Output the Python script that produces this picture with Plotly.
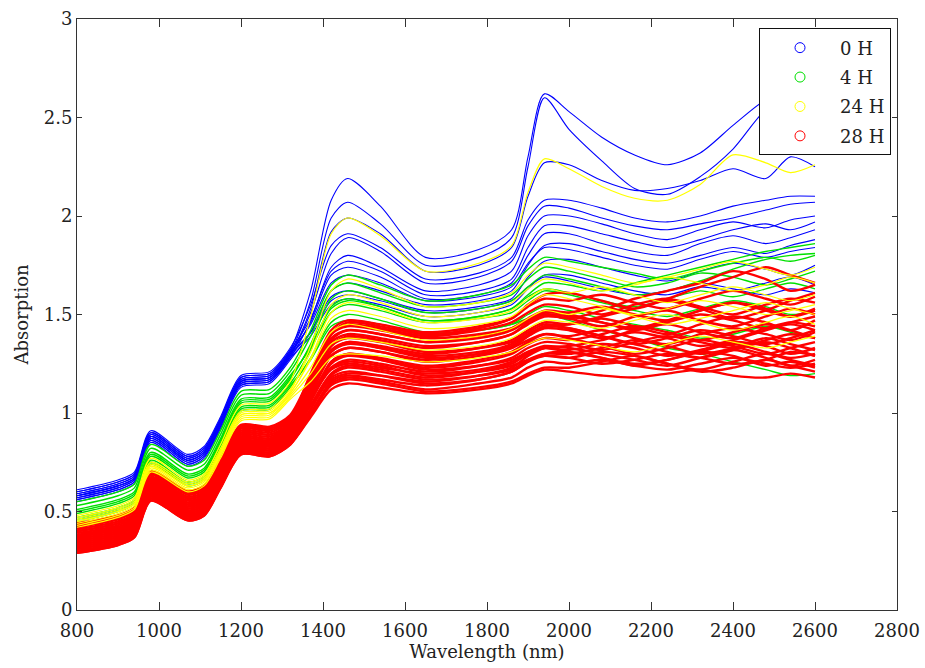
import plotly.graph_objects as go

wavelength = [800, 900, 940, 980, 1070, 1110, 1150, 1200, 1270, 1320, 1370, 1420, 1460, 1540,
              1650, 1780, 1860, 1900, 1940, 2000, 2080, 2160, 2240, 2320, 2400, 2480, 2540, 2600]

# ---- 0 H (blue) ----
b01 = [0.60, 0.65, 0.69, 0.90, 0.78, 0.82, 0.97, 1.18, 1.20, 1.32, 1.62, 2.08, 2.19, 2.05, 1.79, 1.83, 1.93, 2.30, 2.62, 2.53, 2.40, 2.31, 2.26, 2.32, 2.46, 2.59, 2.63, 2.66]
b02 = [0.59, 0.64, 0.68, 0.89, 0.77, 0.81, 0.96, 1.17, 1.19, 1.31, 1.57, 1.99, 2.07, 1.96, 1.75, 1.79, 1.89, 2.25, 2.60, 2.44, 2.28, 2.14, 2.11, 2.20, 2.34, 2.54, 2.60, 2.64]
b03 = [0.58, 0.63, 0.67, 0.88, 0.76, 0.80, 0.95, 1.16, 1.18, 1.30, 1.53, 1.92, 1.99, 1.91, 1.72, 1.75, 1.84, 2.10, 2.27, 2.26, 2.18, 2.13, 2.14, 2.18, 2.24, 2.19, 2.30, 2.25]
b04 = [0.61, 0.66, 0.70, 0.91, 0.79, 0.83, 0.98, 1.19, 1.21, 1.33, 1.55, 1.85, 1.91, 1.84, 1.68, 1.71, 1.79, 1.98, 2.08, 2.08, 2.04, 1.99, 1.97, 2.00, 2.05, 2.08, 2.10, 2.10]
b05 = [0.57, 0.62, 0.66, 0.87, 0.75, 0.79, 0.94, 1.15, 1.17, 1.29, 1.51, 1.81, 1.89, 1.82, 1.66, 1.69, 1.77, 1.95, 2.05, 2.04, 1.99, 1.95, 1.93, 1.96, 1.99, 2.03, 2.06, 2.07]
b06 = [0.56, 0.61, 0.65, 0.86, 0.74, 0.78, 0.93, 1.14, 1.16, 1.28, 1.47, 1.74, 1.80, 1.74, 1.62, 1.65, 1.72, 1.90, 2.00, 2.00, 1.96, 1.91, 1.88, 1.93, 1.97, 1.94, 1.98, 2.00]
b07 = [0.60, 0.65, 0.69, 0.90, 0.78, 0.82, 0.97, 1.18, 1.20, 1.32, 1.48, 1.72, 1.77, 1.72, 1.60, 1.62, 1.68, 1.84, 1.95, 1.95, 1.91, 1.87, 1.84, 1.88, 1.93, 1.96, 1.93, 1.97]
b08 = [0.58, 0.63, 0.67, 0.88, 0.76, 0.80, 0.95, 1.16, 1.18, 1.30, 1.46, 1.70, 1.74, 1.69, 1.58, 1.60, 1.66, 1.80, 1.91, 1.91, 1.86, 1.82, 1.80, 1.86, 1.90, 1.86, 1.89, 1.93]
b09 = [0.55, 0.60, 0.64, 0.85, 0.73, 0.77, 0.92, 1.13, 1.15, 1.27, 1.41, 1.62, 1.66, 1.62, 1.55, 1.57, 1.62, 1.75, 1.85, 1.86, 1.82, 1.78, 1.76, 1.80, 1.84, 1.81, 1.85, 1.88]
b10 = [0.57, 0.62, 0.66, 0.87, 0.75, 0.79, 0.94, 1.15, 1.17, 1.29, 1.41, 1.59, 1.62, 1.58, 1.52, 1.54, 1.58, 1.69, 1.77, 1.78, 1.74, 1.70, 1.67, 1.72, 1.76, 1.73, 1.70, 1.75]
b11 = [0.56, 0.61, 0.65, 0.86, 0.74, 0.78, 0.93, 1.14, 1.16, 1.28, 1.39, 1.55, 1.58, 1.55, 1.49, 1.51, 1.55, 1.63, 1.70, 1.70, 1.66, 1.62, 1.60, 1.64, 1.62, 1.66, 1.69, 1.65]
b12 = [0.59, 0.64, 0.68, 0.89, 0.77, 0.81, 0.96, 1.17, 1.19, 1.31, 1.45, 1.66, 1.70, 1.66, 1.57, 1.59, 1.64, 1.76, 1.84, 1.83, 1.79, 1.75, 1.73, 1.78, 1.82, 1.79, 1.82, 1.84]
b13 = [0.58, 0.63, 0.67, 0.88, 0.76, 0.80, 0.95, 1.16, 1.18, 1.30, 1.41, 1.57, 1.60, 1.57, 1.51, 1.53, 1.57, 1.64, 1.69, 1.67, 1.63, 1.60, 1.62, 1.66, 1.63, 1.60, 1.63, 1.61]

# ---- 4 H (green) ----
g01 = [0.45, 0.50, 0.54, 0.74, 0.63, 0.66, 0.81, 1.01, 1.02, 1.13, 1.28, 1.46, 1.50, 1.47, 1.41, 1.42, 1.45, 1.48, 1.50, 1.47, 1.42, 1.38, 1.33, 1.30, 1.26, 1.22, 1.19, 1.20]
g02 = [0.47, 0.52, 0.56, 0.76, 0.65, 0.68, 0.83, 1.03, 1.04, 1.15, 1.32, 1.54, 1.58, 1.54, 1.47, 1.49, 1.53, 1.60, 1.66, 1.65, 1.62, 1.66, 1.70, 1.74, 1.78, 1.82, 1.84, 1.86]
g03 = [0.49, 0.54, 0.58, 0.78, 0.67, 0.70, 0.85, 1.05, 1.06, 1.17, 1.35, 1.58, 1.62, 1.58, 1.51, 1.53, 1.57, 1.64, 1.70, 1.68, 1.64, 1.60, 1.62, 1.67, 1.73, 1.78, 1.80, 1.81]
g04 = [0.51, 0.56, 0.60, 0.80, 0.69, 0.72, 0.87, 1.07, 1.08, 1.19, 1.33, 1.51, 1.55, 1.52, 1.46, 1.48, 1.51, 1.57, 1.62, 1.60, 1.56, 1.52, 1.49, 1.53, 1.57, 1.54, 1.50, 1.52]
g05 = [0.53, 0.58, 0.62, 0.82, 0.71, 0.74, 0.89, 1.09, 1.10, 1.21, 1.39, 1.62, 1.66, 1.61, 1.54, 1.56, 1.60, 1.68, 1.74, 1.72, 1.68, 1.64, 1.66, 1.71, 1.69, 1.65, 1.68, 1.72]
g06 = [0.46, 0.51, 0.55, 0.75, 0.64, 0.67, 0.82, 1.02, 1.03, 1.14, 1.27, 1.44, 1.47, 1.45, 1.40, 1.42, 1.45, 1.50, 1.54, 1.52, 1.48, 1.45, 1.42, 1.38, 1.40, 1.44, 1.41, 1.38]
g07 = [0.55, 0.60, 0.64, 0.84, 0.73, 0.76, 0.91, 1.11, 1.12, 1.23, 1.42, 1.65, 1.70, 1.65, 1.57, 1.60, 1.65, 1.73, 1.79, 1.77, 1.74, 1.71, 1.68, 1.72, 1.76, 1.79, 1.77, 1.80]
g08 = [0.50, 0.55, 0.59, 0.79, 0.68, 0.71, 0.86, 1.06, 1.07, 1.18, 1.34, 1.53, 1.57, 1.54, 1.47, 1.49, 1.53, 1.59, 1.63, 1.61, 1.57, 1.54, 1.58, 1.62, 1.59, 1.63, 1.66, 1.63]

# ---- 24 H (yellow) ----
y01 = [0.48, 0.53, 0.57, 0.77, 0.66, 0.69, 0.84, 1.04, 1.05, 1.16, 1.49, 1.91, 1.99, 1.90, 1.72, 1.76, 1.85, 2.12, 2.29, 2.24, 2.15, 2.09, 2.08, 2.16, 2.31, 2.27, 2.22, 2.26]
y02 = [0.43, 0.48, 0.52, 0.71, 0.61, 0.64, 0.78, 0.97, 0.98, 1.08, 1.20, 1.35, 1.38, 1.36, 1.32, 1.34, 1.38, 1.43, 1.47, 1.46, 1.43, 1.47, 1.50, 1.46, 1.42, 1.46, 1.49, 1.45]
y03 = [0.45, 0.50, 0.54, 0.73, 0.63, 0.66, 0.80, 0.99, 1.00, 1.10, 1.27, 1.48, 1.52, 1.49, 1.43, 1.45, 1.49, 1.55, 1.60, 1.58, 1.54, 1.50, 1.53, 1.57, 1.54, 1.50, 1.52, 1.55]
y04 = [0.42, 0.47, 0.51, 0.70, 0.60, 0.63, 0.77, 0.96, 0.97, 1.07, 1.16, 1.28, 1.30, 1.29, 1.26, 1.28, 1.31, 1.35, 1.38, 1.37, 1.34, 1.31, 1.35, 1.39, 1.36, 1.33, 1.36, 1.39]
y05 = [0.47, 0.52, 0.56, 0.75, 0.65, 0.68, 0.82, 1.01, 1.02, 1.12, 1.31, 1.55, 1.60, 1.56, 1.49, 1.51, 1.56, 1.63, 1.68, 1.66, 1.62, 1.65, 1.69, 1.66, 1.62, 1.65, 1.69, 1.66]
y06 = [0.44, 0.49, 0.53, 0.72, 0.62, 0.65, 0.79, 0.98, 0.99, 1.09, 1.23, 1.41, 1.45, 1.42, 1.37, 1.39, 1.43, 1.48, 1.52, 1.50, 1.53, 1.49, 1.45, 1.48, 1.52, 1.56, 1.53, 1.50]
y07 = [0.46, 0.51, 0.55, 0.74, 0.64, 0.67, 0.81, 1.00, 1.01, 1.11, 1.34, 1.62, 1.68, 1.63, 1.54, 1.56, 1.61, 1.70, 1.76, 1.74, 1.70, 1.66, 1.69, 1.73, 1.77, 1.73, 1.70, 1.74]
y08 = [0.45, 0.50, 0.54, 0.73, 0.63, 0.66, 0.80, 0.99, 1.00, 1.10, 1.28, 1.51, 1.56, 1.53, 1.46, 1.48, 1.52, 1.58, 1.63, 1.61, 1.64, 1.60, 1.56, 1.60, 1.64, 1.60, 1.57, 1.60]

# ---- 28 H (red) ----
r01 = [0.29, 0.33, 0.37, 0.555, 0.455, 0.48, 0.62, 0.79, 0.78, 0.84, 0.98, 1.12, 1.15, 1.13, 1.10, 1.12, 1.15, 1.19, 1.22, 1.21, 1.19, 1.18, 1.20, 1.22, 1.19, 1.18, 1.20, 1.18]
r02 = [0.30, 0.34, 0.38, 0.565, 0.465, 0.49, 0.63, 0.80, 0.79, 0.85, 1.00, 1.15, 1.18, 1.16, 1.12, 1.15, 1.18, 1.23, 1.26, 1.25, 1.27, 1.24, 1.22, 1.25, 1.28, 1.25, 1.23, 1.25]
r03 = [0.31, 0.35, 0.39, 0.575, 0.475, 0.50, 0.64, 0.81, 0.80, 0.86, 1.02, 1.18, 1.21, 1.19, 1.15, 1.17, 1.21, 1.26, 1.29, 1.28, 1.25, 1.27, 1.30, 1.28, 1.25, 1.27, 1.31, 1.29]
r04 = [0.32, 0.36, 0.40, 0.585, 0.485, 0.51, 0.65, 0.82, 0.81, 0.87, 1.04, 1.20, 1.24, 1.22, 1.18, 1.21, 1.25, 1.30, 1.33, 1.32, 1.35, 1.33, 1.29, 1.32, 1.36, 1.34, 1.30, 1.33]
r05 = [0.33, 0.37, 0.41, 0.595, 0.495, 0.52, 0.66, 0.83, 0.82, 0.88, 1.06, 1.23, 1.27, 1.25, 1.21, 1.24, 1.28, 1.33, 1.36, 1.35, 1.32, 1.36, 1.39, 1.36, 1.33, 1.37, 1.40, 1.38]
r06 = [0.34, 0.38, 0.42, 0.605, 0.505, 0.53, 0.67, 0.84, 0.83, 0.89, 1.07, 1.26, 1.30, 1.28, 1.24, 1.27, 1.31, 1.36, 1.40, 1.39, 1.42, 1.38, 1.35, 1.40, 1.43, 1.40, 1.37, 1.41]
r07 = [0.35, 0.39, 0.43, 0.615, 0.515, 0.54, 0.68, 0.85, 0.84, 0.90, 1.09, 1.29, 1.33, 1.31, 1.27, 1.30, 1.34, 1.39, 1.43, 1.42, 1.38, 1.42, 1.45, 1.41, 1.38, 1.43, 1.46, 1.44]
r08 = [0.36, 0.40, 0.44, 0.625, 0.525, 0.55, 0.69, 0.86, 0.85, 0.91, 1.11, 1.32, 1.36, 1.34, 1.30, 1.33, 1.37, 1.42, 1.46, 1.45, 1.48, 1.44, 1.40, 1.45, 1.49, 1.46, 1.42, 1.47]
r09 = [0.37, 0.41, 0.45, 0.635, 0.535, 0.56, 0.70, 0.87, 0.86, 0.92, 1.13, 1.34, 1.39, 1.37, 1.33, 1.36, 1.40, 1.45, 1.49, 1.48, 1.44, 1.49, 1.52, 1.47, 1.44, 1.49, 1.53, 1.50]
r10 = [0.38, 0.42, 0.46, 0.645, 0.545, 0.57, 0.71, 0.88, 0.87, 0.93, 1.15, 1.37, 1.42, 1.40, 1.36, 1.39, 1.43, 1.48, 1.52, 1.51, 1.54, 1.50, 1.47, 1.52, 1.56, 1.52, 1.49, 1.53]
r11 = [0.40, 0.44, 0.48, 0.665, 0.565, 0.59, 0.73, 0.90, 0.89, 0.95, 1.17, 1.40, 1.45, 1.43, 1.39, 1.42, 1.46, 1.51, 1.55, 1.54, 1.50, 1.55, 1.58, 1.54, 1.50, 1.55, 1.58, 1.56]
r12 = [0.42, 0.46, 0.50, 0.685, 0.585, 0.61, 0.75, 0.92, 0.91, 0.97, 1.20, 1.42, 1.47, 1.45, 1.41, 1.44, 1.48, 1.54, 1.58, 1.57, 1.60, 1.56, 1.53, 1.58, 1.62, 1.58, 1.55, 1.59]
r13 = [0.44, 0.48, 0.52, 0.705, 0.605, 0.63, 0.77, 0.94, 0.93, 0.99, 1.19, 1.40, 1.44, 1.42, 1.38, 1.40, 1.43, 1.47, 1.50, 1.48, 1.52, 1.58, 1.62, 1.66, 1.72, 1.68, 1.62, 1.65]
r14 = [0.31, 0.35, 0.39, 0.575, 0.475, 0.50, 0.64, 0.81, 0.80, 0.86, 1.06, 1.26, 1.30, 1.27, 1.22, 1.24, 1.27, 1.31, 1.33, 1.31, 1.28, 1.25, 1.27, 1.31, 1.29, 1.24, 1.26, 1.23]
r15 = [0.35, 0.39, 0.43, 0.615, 0.515, 0.54, 0.68, 0.85, 0.84, 0.90, 1.04, 1.17, 1.20, 1.19, 1.16, 1.19, 1.23, 1.29, 1.33, 1.34, 1.37, 1.41, 1.38, 1.34, 1.37, 1.42, 1.45, 1.42]
r16 = [0.38, 0.42, 0.46, 0.645, 0.545, 0.57, 0.71, 0.88, 0.87, 0.93, 1.08, 1.23, 1.26, 1.24, 1.19, 1.21, 1.24, 1.27, 1.29, 1.28, 1.31, 1.29, 1.25, 1.22, 1.26, 1.30, 1.27, 1.24]
r17 = [0.33, 0.37, 0.41, 0.595, 0.495, 0.52, 0.66, 0.83, 0.82, 0.88, 1.10, 1.31, 1.36, 1.33, 1.28, 1.30, 1.33, 1.37, 1.40, 1.38, 1.34, 1.30, 1.33, 1.37, 1.34, 1.30, 1.33, 1.36]
r18 = [0.41, 0.45, 0.49, 0.675, 0.575, 0.60, 0.74, 0.91, 0.90, 0.96, 1.13, 1.29, 1.33, 1.31, 1.26, 1.29, 1.33, 1.39, 1.44, 1.45, 1.49, 1.53, 1.57, 1.53, 1.48, 1.52, 1.57, 1.61]
r19 = [0.43, 0.47, 0.51, 0.695, 0.595, 0.62, 0.76, 0.93, 0.92, 0.98, 1.17, 1.36, 1.40, 1.38, 1.34, 1.36, 1.40, 1.46, 1.50, 1.49, 1.46, 1.42, 1.46, 1.50, 1.47, 1.43, 1.46, 1.49]
r20 = [0.30, 0.34, 0.38, 0.565, 0.465, 0.49, 0.63, 0.80, 0.79, 0.85, 1.02, 1.19, 1.23, 1.21, 1.17, 1.19, 1.22, 1.27, 1.30, 1.30, 1.33, 1.37, 1.34, 1.30, 1.33, 1.38, 1.35, 1.32]
r21 = [0.36, 0.40, 0.44, 0.625, 0.525, 0.55, 0.69, 0.86, 0.85, 0.91, 1.16, 1.40, 1.46, 1.44, 1.40, 1.43, 1.48, 1.55, 1.60, 1.61, 1.57, 1.53, 1.58, 1.64, 1.69, 1.74, 1.70, 1.66]
r22 = [0.32, 0.36, 0.40, 0.585, 0.485, 0.51, 0.65, 0.82, 0.81, 0.87, 1.00, 1.16, 1.19, 1.17, 1.14, 1.17, 1.21, 1.26, 1.30, 1.31, 1.28, 1.24, 1.27, 1.31, 1.35, 1.31, 1.28, 1.30]
r23 = [0.34, 0.38, 0.42, 0.605, 0.505, 0.53, 0.67, 0.84, 0.83, 0.89, 1.10, 1.31, 1.35, 1.33, 1.29, 1.31, 1.35, 1.40, 1.44, 1.43, 1.39, 1.35, 1.31, 1.28, 1.32, 1.36, 1.33, 1.29]
r24 = [0.37, 0.41, 0.45, 0.635, 0.535, 0.56, 0.70, 0.87, 0.86, 0.92, 1.08, 1.25, 1.29, 1.27, 1.23, 1.26, 1.30, 1.35, 1.38, 1.37, 1.40, 1.44, 1.41, 1.37, 1.41, 1.45, 1.42, 1.38]
r25 = [0.39, 0.43, 0.47, 0.655, 0.555, 0.58, 0.72, 0.89, 0.88, 0.94, 1.14, 1.34, 1.38, 1.36, 1.31, 1.33, 1.36, 1.41, 1.45, 1.43, 1.39, 1.35, 1.38, 1.42, 1.39, 1.35, 1.38, 1.42]
r26 = [0.40, 0.44, 0.48, 0.665, 0.565, 0.59, 0.73, 0.90, 0.89, 0.95, 1.08, 1.22, 1.25, 1.23, 1.20, 1.22, 1.26, 1.31, 1.34, 1.33, 1.30, 1.27, 1.24, 1.28, 1.32, 1.28, 1.24, 1.27]
r27 = [0.43, 0.47, 0.51, 0.695, 0.595, 0.62, 0.76, 0.93, 0.92, 0.98, 1.18, 1.38, 1.42, 1.40, 1.36, 1.38, 1.42, 1.47, 1.51, 1.50, 1.46, 1.43, 1.47, 1.52, 1.56, 1.53, 1.49, 1.52]
r28 = [0.29, 0.33, 0.37, 0.555, 0.455, 0.48, 0.62, 0.79, 0.78, 0.84, 0.99, 1.14, 1.17, 1.15, 1.11, 1.13, 1.16, 1.20, 1.23, 1.23, 1.26, 1.29, 1.25, 1.21, 1.23, 1.27, 1.24, 1.21]

blue_spectra = [b01, b02, b03, b04, b05, b06, b07, b08, b09, b10, b11, b12, b13]
green_spectra = [g01, g02, g03, g04, g05, g06, g07, g08]
yellow_spectra = [y01, y02, y03, y04, y05, y06, y07, y08]
red_spectra = [r01, r02, r03, r04, r05, r06, r07, r08, r09, r10, r11, r12, r13, r14,
               r15, r16, r17, r18, r19, r20, r21, r22, r23, r24, r25, r26, r27, r28]

group_names = ["0 H", "4 H", "24 H", "28 H"]
group_colors = ["#0000ff", "#00e000", "#ffff00", "#ff0000"]

x_ticks = [800, 1000, 1200, 1400, 1600, 1800, 2000, 2200, 2400, 2600, 2800]
y_ticks = [0, 0.5, 1, 1.5, 2, 2.5, 3]

FONT = "DejaVu Serif"
fig = go.Figure()

draw_order = [(blue_spectra, 0, 1.1), (green_spectra, 1, 1.4), (red_spectra, 3, 2.4), (yellow_spectra, 2, 1.2)]
for spectra, gi, w in draw_order:
    for s in spectra:
        fig.add_trace(go.Scatter(x=wavelength, y=s, mode="lines",
                                 line=dict(color=group_colors[gi], width=w, shape="spline", smoothing=0.8),
                                 showlegend=False, hoverinfo="skip"))

for gi, name in enumerate(group_names):
    fig.add_trace(go.Scatter(x=[None], y=[None], mode="markers", name=name,
                             legendgroup=name,
                             marker=dict(symbol="circle-open", size=10, color=group_colors[gi],
                                         line=dict(width=1, color=group_colors[gi]))))

axis_common = dict(showline=True, linecolor="#333333", linewidth=1, mirror="ticks",
                   ticks="inside", tickcolor="#333333", showgrid=False, zeroline=False,
                   automargin=False,
                   tickfont=dict(family=FONT, size=18, color="#222222"))

fig.update_layout(
    width=925, height=668,
    margin=dict(l=77, r=28, t=19, b=58),
    paper_bgcolor="white", plot_bgcolor="white",
    font=dict(family=FONT, size=18, color="#222222"),
    xaxis=dict(range=[800, 2800], tickvals=x_ticks, ticklen=8, ticklabelstandoff=4,
               title=dict(text="Wavelength (nm)", font=dict(family=FONT, size=18), standoff=0),
               **axis_common),
    yaxis=dict(range=[0, 3], tickvals=y_ticks, ticklen=5,
               title=dict(text="Absorption", font=dict(family=FONT, size=18), standoff=10),
               **axis_common),
    legend=dict(x=0.9927, y=0.984, xanchor="right", yanchor="top",
                bgcolor="white", bordercolor="#111111", borderwidth=1,
                font=dict(family=FONT, size=18, color="#222222"),
                tracegroupgap=3, traceorder="grouped", itemwidth=70),
    showlegend=True,
)

fig.write_html("out.html", config={"displayModeBar": False},
               post_script="document.body.style.margin='0';document.body.style.overflow='hidden';")
